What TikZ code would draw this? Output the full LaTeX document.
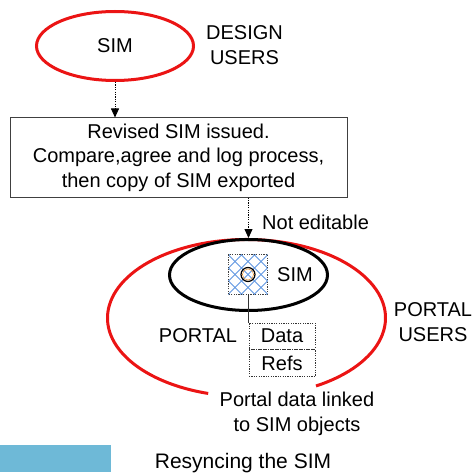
\documentclass[tikz,border=0pt]{standalone}
\usepackage{fontspec}
\setmainfont{Liberation Sans}
\usetikzlibrary{shapes.geometric,arrows.meta,calc}
\definecolor{simred}{RGB}{235,20,20}
\definecolor{hatchblue}{RGB}{95,150,225}
\definecolor{bandblue}{RGB}{110,185,215}
\definecolor{ringorange}{RGB}{230,140,40}
\tikzset{
  lbl/.style={font=\fontsize{20}{25}\selectfont, inner sep=0pt, align=center},
  redring/.style={ellipse, draw=simred, line width=3pt, inner sep=0pt},
  blackring/.style={ellipse, draw=black, line width=3pt, inner sep=0pt},
  procbox/.style={draw=black!75, line width=1pt, inner sep=0pt, align=center,
                  font=\fontsize{20}{24.5}\selectfont},
  fieldbox/.style={draw=black!80, line width=0.8pt, dash pattern=on 1.2pt off 1.2pt,
                   inner sep=0pt, font=\fontsize{20}{25}\selectfont},
  flow/.style={line width=0.8pt, dash pattern=on 1.2pt off 1.2pt,
               -{Triangle[length=9pt,width=8pt]}},
  hatchline/.style={hatchblue, line width=0.9pt},
}
\begin{document}
\begin{tikzpicture}[x=1pt,y=1pt]
\useasboundingbox (0,0) rectangle (476,472);

% design side
\node[redring, minimum width=157, minimum height=69, lbl] (sim1) at (115,426) {SIM};
\node[lbl] (design) at (244.5,426.5) {DESIGN\\USERS};

% process box
\node[procbox, minimum width=337, minimum height=79] (proc) at (178.5,314.5)
  {Revised SIM issued.\\Compare,agree and log process,\\then copy of SIM exported};

\draw[flow] (sim1.south) -- (sim1.south |- proc.north);

% portal side
\draw[simred, line width=3pt] ($(246.5,154)+(300:139 and 78.5)$)
  arc[start angle=300, end angle=614, x radius=139, y radius=78.5];
\node[blackring, minimum width=158, minimum height=71] (simp) at (248.5,197) {};

\coordinate (procout) at (proc.south -| simp.north);
\draw[flow] (procout) -- (simp.north);
\node[lbl, anchor=west] (noedit) at (262,250) {Not editable};

% hatched SIM object
\node[minimum width=39, minimum height=39, inner sep=0pt] (obj) at (248,197.5) {};
\begin{scope}
  \clip (obj.south west) rectangle (obj.north east);
  \foreach \k in {-5,...,5} {
    \draw[hatchline] ($(obj.center)+(\k*13-40,-40)$) -- ++(80,80);
    \draw[hatchline] ($(obj.center)+(\k*13+40,-40)$) -- ++(-80,80);
  }
\end{scope}
\draw[black!75, line width=0.8pt, dash pattern=on 1.2pt off 1.2pt]
  (obj.south west) rectangle (obj.north east);
\node[circle, draw=black, line width=1.2pt, minimum size=14, inner sep=0pt] (ring) at (obj.center) {};
\draw[ringorange, line width=0.5pt] (ring.center) circle[radius=5.6];
\node[lbl] (simlbl) at (295,197) {SIM};

% linked portal data
\node[fieldbox, minimum width=66, minimum height=26] (data) at (282,136) {Data};
\node[fieldbox, minimum width=66, minimum height=27, anchor=north] (refs) at (data.south) {Refs};
\draw[black!80, line width=0.9pt] (obj.south) -- (obj.south |- data.north);

\node[lbl] (portal) at (198,136) {PORTAL};
\node[lbl] (puser) at (433,150) {PORTAL\\USERS};
\node[lbl] (linked) at (297,58) {Portal data linked\\to SIM objects};

% caption band
\fill[bandblue] (0,0) rectangle (111,27);
\node[lbl, font=\fontsize{21}{25}\selectfont, anchor=base] (caption) at (243,4) {Resyncing the SIM};
\end{tikzpicture}
\end{document}
